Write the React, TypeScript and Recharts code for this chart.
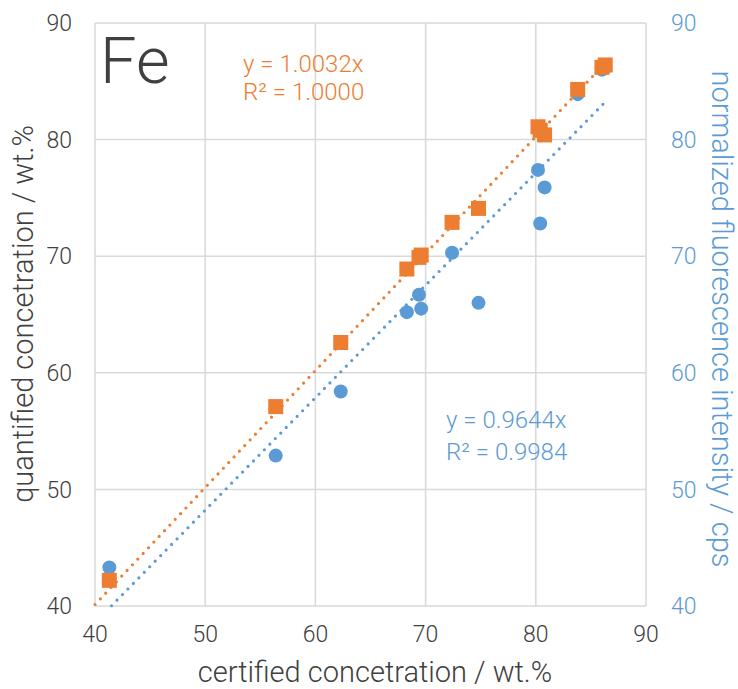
import React from 'react';
import { ScatterChart, Scatter, XAxis, YAxis, CartesianGrid } from 'recharts';

// Fe samples: certified content vs. quantified content and normalized fluorescence
const certified = [41.3, 56.4, 62.3, 68.3, 69.4, 69.6, 72.4, 74.8, 80.2, 80.4, 80.8, 83.8, 86.0, 86.3];
const quantified = [42.2, 57.1, 62.6, 68.9, 69.9, 70.1, 72.9, 74.1, 81.1, 80.8, 80.4, 84.3, 86.2, 86.4];
const intensity = [43.3, 52.9, 58.4, 65.2, 66.7, 65.5, 70.3, 66.0, 77.4, 72.8, 75.9, 83.9, 86.0, 86.2];

// linear fits through the origin
const quantSlope = 1.0032;
const quantR2 = '1.0000';
const intSlope = 0.9644;
const intR2 = '0.9984';
const quantFitRange = [40, 86.3];
const intFitRange = [41.5, 86.1];

const ticks = [40, 50, 60, 70, 80, 90];

const ORANGE = '#ED7D31';
const BLUE = '#5B9BD5';
const TEXT = '#404040';
const FONT = 'Roboto, sans-serif';

const quantData = certified.map((x, i) => ({ x, y: quantified[i] }));
const intData = certified.map((x, i) => ({ x, y: intensity[i] }));
const quantFit = quantFitRange.map(x => ({ x, y: quantSlope * x }));
const intFit = intFitRange.map(x => ({ x, y: intSlope * x }));

const Square = (props: any) => (
  <rect x={props.cx - 7.5} y={props.cy - 7.5} width={15} height={15} fill={ORANGE} />
);
const Dot = (props: any) => <circle cx={props.cx} cy={props.cy} r={7} fill={BLUE} />;
const NoShape = () => <g />;

const dotted = (color: string) => ({
  stroke: color,
  strokeWidth: 3.2,
  strokeDasharray: '0 7.8',
  strokeLinecap: 'round' as const,
});

const tickStyle = { fontSize: 23, fontWeight: 300, fontFamily: FONT };

export default function App() {
  return (
    <div style={{ position: 'absolute', left: 0, top: 0, fontFamily: FONT, fontWeight: 300 }}>
      <ScatterChart width={738} height={689} margin={{ top: 23, right: 0, bottom: 0, left: 0 }}>
        <CartesianGrid
          yAxisId="left"
          stroke="#D9D9D9"
          strokeWidth={1.5}
          horizontalValues={ticks}
          verticalValues={ticks}
        />
        <XAxis
          type="number"
          dataKey="x"
          domain={[40, 90]}
          ticks={ticks}
          height={83}
          axisLine={false}
          tickLine={false}
          tickSize={0}
          tickMargin={20}
          tick={{ ...tickStyle, fill: TEXT }}
        />
        <YAxis
          yAxisId="left"
          type="number"
          dataKey="y"
          domain={[40, 90]}
          ticks={ticks}
          width={95}
          axisLine={false}
          tickLine={false}
          tickSize={0}
          tickMargin={23}
          tick={{ ...tickStyle, fill: TEXT }}
        />
        <YAxis
          yAxisId="right"
          orientation="right"
          type="number"
          dataKey="y"
          domain={[40, 90]}
          ticks={ticks}
          width={92}
          axisLine={false}
          tickLine={false}
          tickSize={0}
          tickMargin={25}
          tick={{ ...tickStyle, fill: BLUE }}
        />
        <Scatter yAxisId="right" data={intFit} line={dotted(BLUE)} shape={NoShape} isAnimationActive={false} />
        <Scatter yAxisId="left" data={quantFit} line={dotted(ORANGE)} shape={NoShape} isAnimationActive={false} />
        <Scatter yAxisId="right" data={intData} shape={Dot} isAnimationActive={false} />
        <Scatter yAxisId="left" data={quantData} shape={Square} isAnimationActive={false} />

        <text x={100} y={83} fontSize={65} fontWeight={300} fill={TEXT} fontFamily={FONT}>Fe</text>
        <text x={243} y={72} fontSize={24} fontWeight={300} fill={ORANGE} fontFamily={FONT}>{`y = ${quantSlope.toFixed(4)}x`}</text>
        <text x={243} y={100} fontSize={24} fontWeight={300} fill={ORANGE} fontFamily={FONT}>{`R² = ${quantR2}`}</text>
        <text x={446} y={428} fontSize={24} fontWeight={300} fill={BLUE} fontFamily={FONT}>{`y = ${intSlope.toFixed(4)}x`}</text>
        <text x={446} y={460} fontSize={24} fontWeight={300} fill={BLUE} fontFamily={FONT}>{`R² = ${intR2}`}</text>

        <text x={375} y={682} textAnchor="middle" fontSize={29} fontWeight={300} fill={TEXT} fontFamily={FONT}>
          certified concetration / wt.%
        </text>
        <text
          transform="translate(33 314) rotate(-90)"
          textAnchor="middle"
          fontSize={29}
          fontWeight={300}
          fill={TEXT}
          fontFamily={FONT}
        >
          quantified concetration / wt.%
        </text>
        <text
          transform="translate(712 319) rotate(90)"
          textAnchor="middle"
          fontSize={29}
          fontWeight={300}
          fill={BLUE}
          fontFamily={FONT}
        >
          normalized fluorescence intensity / cps
        </text>
      </ScatterChart>
    </div>
  );
}
